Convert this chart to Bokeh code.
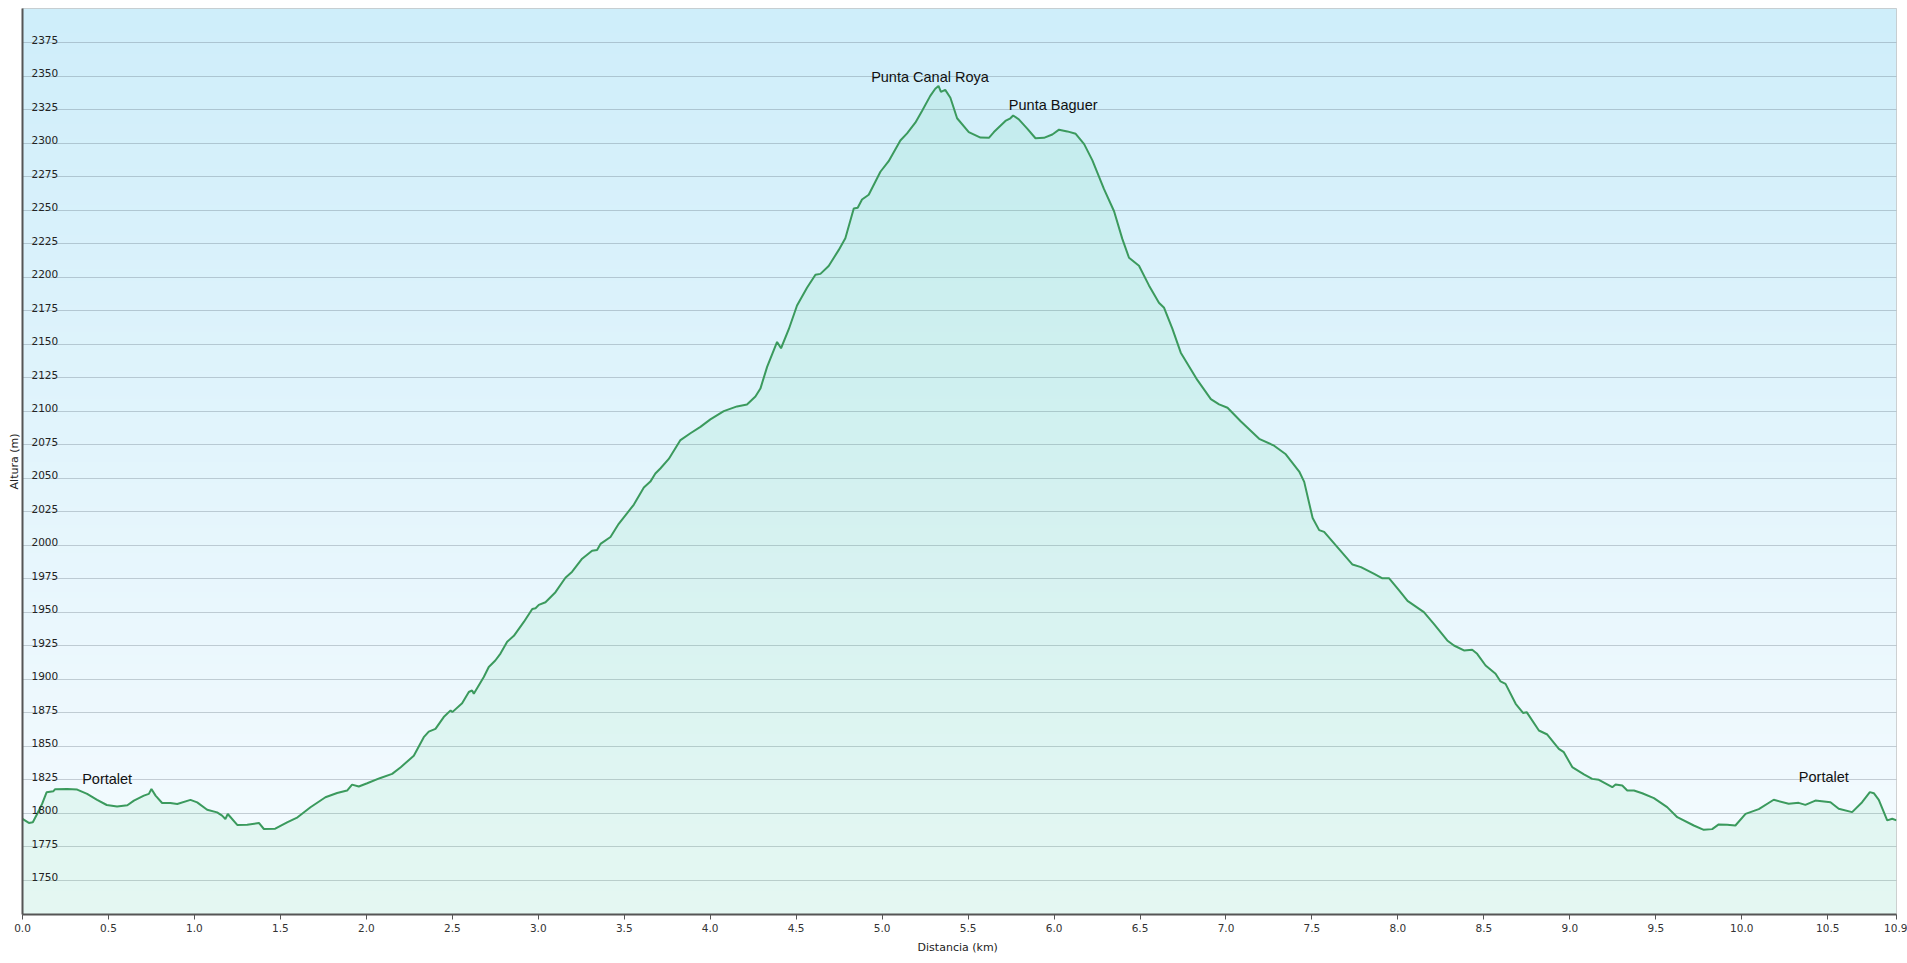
import numpy as np
from bokeh.plotting import figure
from bokeh.models import Range1d, FixedTicker, ColumnDataSource, PrintfTickFormatter
from bokeh.core.properties import value
from bokeh.embed import file_html
from bokeh.resources import INLINE

# ---------------- data ----------------
dist_km = [
    0.000, 0.037, 0.060, 0.085, 0.114, 0.140, 0.180, 0.190, 0.260, 0.318, 0.376, 0.434, 0.490, 0.550, 0.610,
    0.648, 0.706, 0.735, 0.750, 0.774, 0.812, 0.860, 0.900, 0.977, 1.016, 1.074, 1.132, 1.161, 1.180, 1.194,
    1.249, 1.307, 1.375, 1.404, 1.470, 1.539, 1.600, 1.675, 1.762, 1.830, 1.888, 1.917, 1.956, 2.005, 2.082,
    2.150, 2.200, 2.276, 2.334, 2.363, 2.402, 2.450, 2.490, 2.500, 2.557, 2.596, 2.615, 2.625, 2.683, 2.712, 2.750,
    2.780, 2.819, 2.858, 2.916, 2.965, 2.984, 3.003, 3.042, 3.100, 3.158, 3.197, 3.255, 3.313, 3.342, 3.362,
    3.420, 3.468, 3.517, 3.556, 3.614, 3.652, 3.681, 3.710, 3.759, 3.827, 3.885, 3.943, 4.001, 4.079, 4.156,
    4.214, 4.263, 4.292, 4.331, 4.389, 4.412, 4.457, 4.505, 4.563, 4.612, 4.641, 4.689, 4.747, 4.786, 4.835,
    4.858, 4.883, 4.922, 4.990, 5.038, 5.106, 5.145, 5.193, 5.232, 5.280, 5.309, 5.328, 5.342, 5.367, 5.397,
    5.436, 5.504, 5.572, 5.621, 5.650, 5.717, 5.746, 5.762, 5.795, 5.844, 5.892, 5.941, 5.990, 6.029, 6.077,
    6.126, 6.175, 6.223, 6.290, 6.349, 6.397, 6.436, 6.494, 6.552, 6.610, 6.640, 6.688, 6.737, 6.834, 6.912,
    6.960, 7.009, 7.087, 7.193, 7.280, 7.348, 7.426, 7.455, 7.504, 7.542, 7.571, 7.649, 7.736, 7.785, 7.862,
    7.910, 7.949, 8.007, 8.056,
    8.151, 8.209, 8.287, 8.326, 8.384, 8.432, 8.461, 8.510, 8.568, 8.597, 8.626, 8.685, 8.729, 8.749, 8.820,
    8.869, 8.936, 8.965, 9.014, 9.082, 9.130, 9.169, 9.247, 9.266, 9.305, 9.334, 9.373, 9.421, 9.489, 9.566,
    9.625, 9.721, 9.779, 9.828, 9.866, 9.915, 9.963, 10.022, 10.099, 10.186, 10.273, 10.331, 10.370, 10.428,
    10.516, 10.564, 10.642, 10.700, 10.745, 10.768, 10.797, 10.846, 10.875, 10.900,
]

elev_m = [
    1795.8, 1792.8, 1793.3, 1799.5, 1807.0, 1815.7, 1816.5, 1818.0, 1818.2, 1817.7, 1814.5, 1810.0, 1806.2, 1805.0, 1806.0,
    1809.5, 1813.2, 1814.5, 1818.2, 1813.2, 1807.7, 1807.7, 1807.0, 1810.0, 1808.2, 1802.7, 1800.7, 1798.3, 1795.8, 1799.5,
    1791.3, 1791.5, 1792.8, 1788.3, 1788.5, 1793.3, 1797.0, 1804.5, 1812.0, 1815.2, 1817.0, 1821.4, 1820.0, 1822.4, 1826.4,
    1829.4, 1834.4, 1843.0, 1856.8, 1861.0, 1863.0, 1871.8, 1876.8, 1875.5, 1882.2, 1890.5, 1891.7, 1889.2, 1901.7, 1909.2, 1914.0,
    1919.2, 1928.0, 1932.4, 1942.8, 1952.5, 1953.0, 1955.5, 1957.5, 1965.0, 1975.8, 1980.3, 1990.0, 1995.9, 1996.5, 2001.0,
    2006.2, 2016.0, 2024.0, 2030.4, 2043.1, 2047.5, 2053.5, 2057.3, 2064.4, 2078.5, 2083.6, 2088.3, 2093.9, 2100.1, 2103.6,
    2105.1, 2111.0, 2116.9, 2133.1, 2151.7, 2147.0, 2161.2, 2178.9, 2192.2, 2201.9, 2202.5, 2208.4, 2220.2, 2229.1, 2251.2,
    2251.8, 2258.0, 2261.5, 2278.7, 2286.6, 2302.0, 2307.3, 2315.3, 2324.1, 2335.3, 2340.6, 2342.7, 2338.3, 2339.8, 2333.9,
    2318.6, 2308.3, 2304.2, 2304.0, 2308.3, 2316.6, 2318.6, 2320.7, 2317.8, 2310.9, 2303.7, 2304.0, 2306.5, 2310.1, 2308.8,
    2307.0, 2299.3, 2287.2, 2265.9, 2249.2, 2228.6, 2214.5, 2208.5, 2193.9, 2181.0, 2177.2, 2161.7, 2143.7, 2123.2, 2109.0,
    2105.1, 2102.6, 2092.3, 2079.4, 2074.3, 2067.9, 2055.0, 2047.3, 2020.3, 2011.3, 2010.0, 1998.4, 1985.6, 1983.7, 1978.6,
    1975.3, 1975.3, 1966.3, 1958.5,
    1950.1, 1941.4, 1929.0, 1925.2, 1921.5, 1922.0, 1919.0, 1910.3, 1904.1, 1898.4, 1896.6, 1881.7, 1874.8, 1875.5, 1861.8,
    1858.8, 1848.1, 1845.6, 1834.5, 1829.0, 1825.7, 1825.0, 1819.5, 1821.5, 1820.8, 1817.0, 1817.0, 1815.0, 1811.3, 1804.6,
    1797.1, 1790.9, 1787.7, 1788.2, 1791.7, 1791.4, 1790.9, 1799.6, 1803.1, 1810.1, 1807.1, 1807.8, 1806.3, 1809.5,
    1808.3, 1803.4, 1800.9, 1808.3, 1815.8, 1815.0, 1810.1, 1794.7, 1795.9, 1794.7,
]

x_ticks = [0.0, 0.5, 1.0, 1.5, 2.0, 2.5, 3.0, 3.5, 4.0, 4.5, 5.0, 5.5, 6.0, 6.5, 7.0, 7.5, 8.0, 8.5,
           9.0, 9.5, 10.0, 10.5, 10.9]
y_ticks = [1750, 1775, 1800, 1825, 1850, 1875, 1900, 1925, 1950, 1975, 2000, 2025, 2050, 2075, 2100,
           2125, 2150, 2175, 2200, 2225, 2250, 2275, 2300, 2325, 2350, 2375]

waypoint_names = ["Portalet", "Punta  Canal Roya", "Punta Baguer", "Portalet"]
waypoint_x = [0.347, 4.936, 5.737, 10.332]
waypoint_y = [1825.5, 2349.1, 2328.7, 1827.3]

x_title = "Distancia  (km)"
y_title = "Altura (m)"

# ---------------- figure ----------------
X_MIN, X_MAX = 0.0, 10.9
Y_MIN, Y_MAX = 1724.5, 2400.5

p = figure(width=1907, height=960,
           x_range=Range1d(X_MIN, X_MAX), y_range=Range1d(Y_MIN, Y_MAX),
           output_backend="svg", toolbar_location=None,
           min_border_left=22, min_border_right=11, min_border_top=8, min_border_bottom=46)
p.border_fill_color = "white"
p.background_fill_color = "#eaf6fc"
p.outline_line_color = "#c4c4c4"
p.outline_line_width = 1

# vertical background gradient (light sky blue at top -> near white at bottom)
N = 300
top_c = np.array([207, 238, 250], dtype=float)
bot_c = np.array([247, 252, 255], dtype=float)
tt = np.linspace(0.0, 1.0, N)[:, None]          # row 0 = bottom
cols = bot_c * (1 - tt) + top_c * tt
img = np.empty((N, 1), dtype=np.uint32)
view = img.view(dtype=np.uint8).reshape((N, 1, 4))
view[:, 0, 0] = cols[:, 0].astype(np.uint8)
view[:, 0, 1] = cols[:, 1].astype(np.uint8)
view[:, 0, 2] = cols[:, 2].astype(np.uint8)
view[:, 0, 3] = 255
p.image_rgba(image=[img], x=X_MIN, y=Y_MIN, dw=X_MAX - X_MIN, dh=Y_MAX - Y_MIN, level="image")

# grid
p.xgrid.visible = False
p.ygrid.ticker = FixedTicker(ticks=y_ticks)
p.ygrid.grid_line_color = "#4a5a68"
p.ygrid.grid_line_alpha = 0.28
p.ygrid.grid_line_width = 1.2

src = ColumnDataSource(dict(dist=dist_km, elev=elev_m))
p.varea(x="dist", y1=Y_MIN, y2="elev", source=src, fill_color="#38d27e", fill_alpha=0.09)
p.line(x="dist", y="elev", source=src, line_color="#3b9a5d", line_width=2)

# y tick labels drawn inside the plot, above each grid line
ysrc = ColumnDataSource(dict(x=[X_MIN] * len(y_ticks), y=y_ticks, t=[str(v) for v in y_ticks]))
p.text(x="x", y="y", text="t", source=ysrc, x_offset=9, y_offset=-3,
       text_align="left", text_baseline="alphabetic",
       text_font=value("DejaVu Sans"), text_font_size="10.5px", text_color="#222222")

# waypoint labels
wsrc = ColumnDataSource(dict(x=waypoint_x, y=waypoint_y, t=waypoint_names))
p.text(x="x", y="y", text="t", source=wsrc, text_align="left", text_baseline="alphabetic",
       text_font=value("Liberation Sans"), text_font_size="14.5px", text_color="#111111")

# x axis
xa = p.xaxis[0]
xa.ticker = FixedTicker(ticks=x_ticks)
xa.formatter = PrintfTickFormatter(format="%.1f")
xa.major_tick_out = 5
xa.major_tick_in = 0
xa.minor_tick_out = 0
xa.minor_tick_in = 0
xa.major_tick_line_color = "#555555"
xa.axis_line_color = "#555555"
xa.axis_line_width = 2
xa.major_label_standoff = 4
xa.major_label_text_font = "DejaVu Sans"
xa.major_label_text_font_size = "10.5px"
xa.major_label_text_color = "#333333"
xa.axis_label = x_title
xa.axis_label_text_font = "DejaVu Sans"
xa.axis_label_text_font_size = "11px"
xa.axis_label_text_font_style = "normal"
xa.axis_label_text_color = "#222222"
xa.axis_label_standoff = 6

# y axis (line + title only)
ya = p.yaxis[0]
ya.ticker = FixedTicker(ticks=[])
ya.major_tick_out = 0
ya.major_tick_in = 0
ya.minor_tick_out = 0
ya.minor_tick_in = 0
ya.axis_line_color = "#555555"
ya.axis_line_width = 2
ya.axis_label = y_title
ya.axis_label_text_font = "DejaVu Sans"
ya.axis_label_text_font_size = "11px"
ya.axis_label_text_font_style = "normal"
ya.axis_label_text_color = "#222222"
ya.axis_label_standoff = 2

open("out.html", "w").write(file_html(p, INLINE))
